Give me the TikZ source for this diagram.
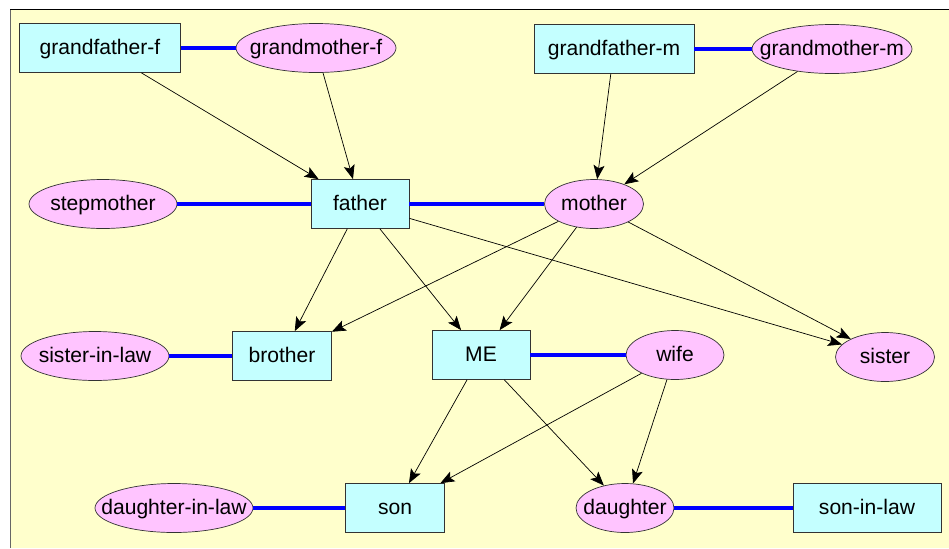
\documentclass[tikz,border=0pt]{standalone}
\usepackage{fontspec}
\setmainfont{Liberation Sans}
\usetikzlibrary{shapes.geometric,arrows.meta}

\definecolor{bgyellow}{HTML}{FFFFCC}
\definecolor{malefill}{HTML}{C4FFFF}
\definecolor{femalefill}{HTML}{FFC4FF}

\tikzset{
  male/.style={draw=black!80, fill=malefill, minimum height=0.98cm, inner sep=0pt, text height=1.65ex, text depth=0.15ex, font=\fontsize{12}{14}\selectfont},
  female/.style={ellipse, draw=black!80, fill=femalefill, minimum height=0.98cm, inner sep=0pt, text height=1.65ex, text depth=0.15ex, font=\fontsize{12}{14}\selectfont},
  child/.style={-{Stealth[length=0.28cm, width=0.22cm, inset=0.06cm]}, thin},
  married/.style={blue, line width=2.6pt}
}

\begin{document}
\begin{tikzpicture}[x=0.02cm, y=-0.02cm]
\useasboundingbox (0,0) rectangle (949,548);
\fill[bgyellow] (10,9) rectangle (949,548); % background
\draw[black!60] (10,548) -- (10,9); % left edge
\draw[black] (10,9) -- (949,9); % top edge

% grandparents
\node[male, minimum width=3.22cm] (gff) at (100,48) {grandfather-f};
\node[female, minimum width=3.2cm] (gmf) at (316,48) {\makebox[0pt]{grandmother-f}};
\node[male, minimum width=3.2cm] (gfm) at (614,49) {grandfather-m};
\node[female, minimum width=3.2cm] (gmm) at (832,49) {\makebox[0pt]{grandmother-m}};

% parents
\node[female, minimum width=2.96cm] (stepmother) at (103,204) {\makebox[0pt]{stepmother}};
\node[male, minimum width=1.96cm] (father) at (360,204) {father};
\node[female, minimum width=1.98cm] (mother) at (594,204) {\makebox[0pt]{mother}};

% my generation
\node[female, minimum width=2.96cm] (sil) at (95,356) {\makebox[0pt]{sister-in-law}};
\node[male, minimum width=1.98cm] (brother) at (282,356) {brother};
\node[male, minimum width=1.96cm] (me) at (481,355) {ME};
\node[female, minimum width=1.96cm] (wife) at (675,355) {\makebox[0pt]{wife}};
\node[female, minimum width=1.98cm] (sister) at (885,357) {\makebox[0pt]{sister}};

% children
\node[female, minimum width=3.16cm] (dil) at (174,508) {\makebox[0pt]{daughter-in-law}};
\node[male, minimum width=1.98cm] (son) at (395,508) {son};
\node[female, minimum width=1.96cm] (daughter) at (625,508) {\makebox[0pt]{daughter}};
\node[male, minimum width=2.96cm] (sonil) at (867,508) {son-in-law};

% couples
\draw[married] (gff) -- (gmf);
\draw[married] (gfm) -- (gmm);
\draw[married] (stepmother) -- (father);
\draw[married] (father) -- (mother);
\draw[married] (sil) -- (brother);
\draw[married] (me) -- (wife);
\draw[married] (dil) -- (son);
\draw[married] (daughter) -- (sonil);

% parent to child
\draw[child] (gff) -- (father);
\draw[child] (gmf) -- (father);
\draw[child] (gfm) -- (mother);
\draw[child] (gmm) -- (mother);
\draw[child] (father) -- (brother);
\draw[child] (father) -- (me);
\draw[child] (father) -- (sister);
\draw[child] (mother) -- (brother);
\draw[child] (mother) -- (me);
\draw[child] (mother) -- (sister);
\draw[child] (me) -- (son);
\draw[child] (me) -- (daughter);
\draw[child] (wife) -- (son);
\draw[child] (wife) -- (daughter);

\end{tikzpicture}
\end{document}
